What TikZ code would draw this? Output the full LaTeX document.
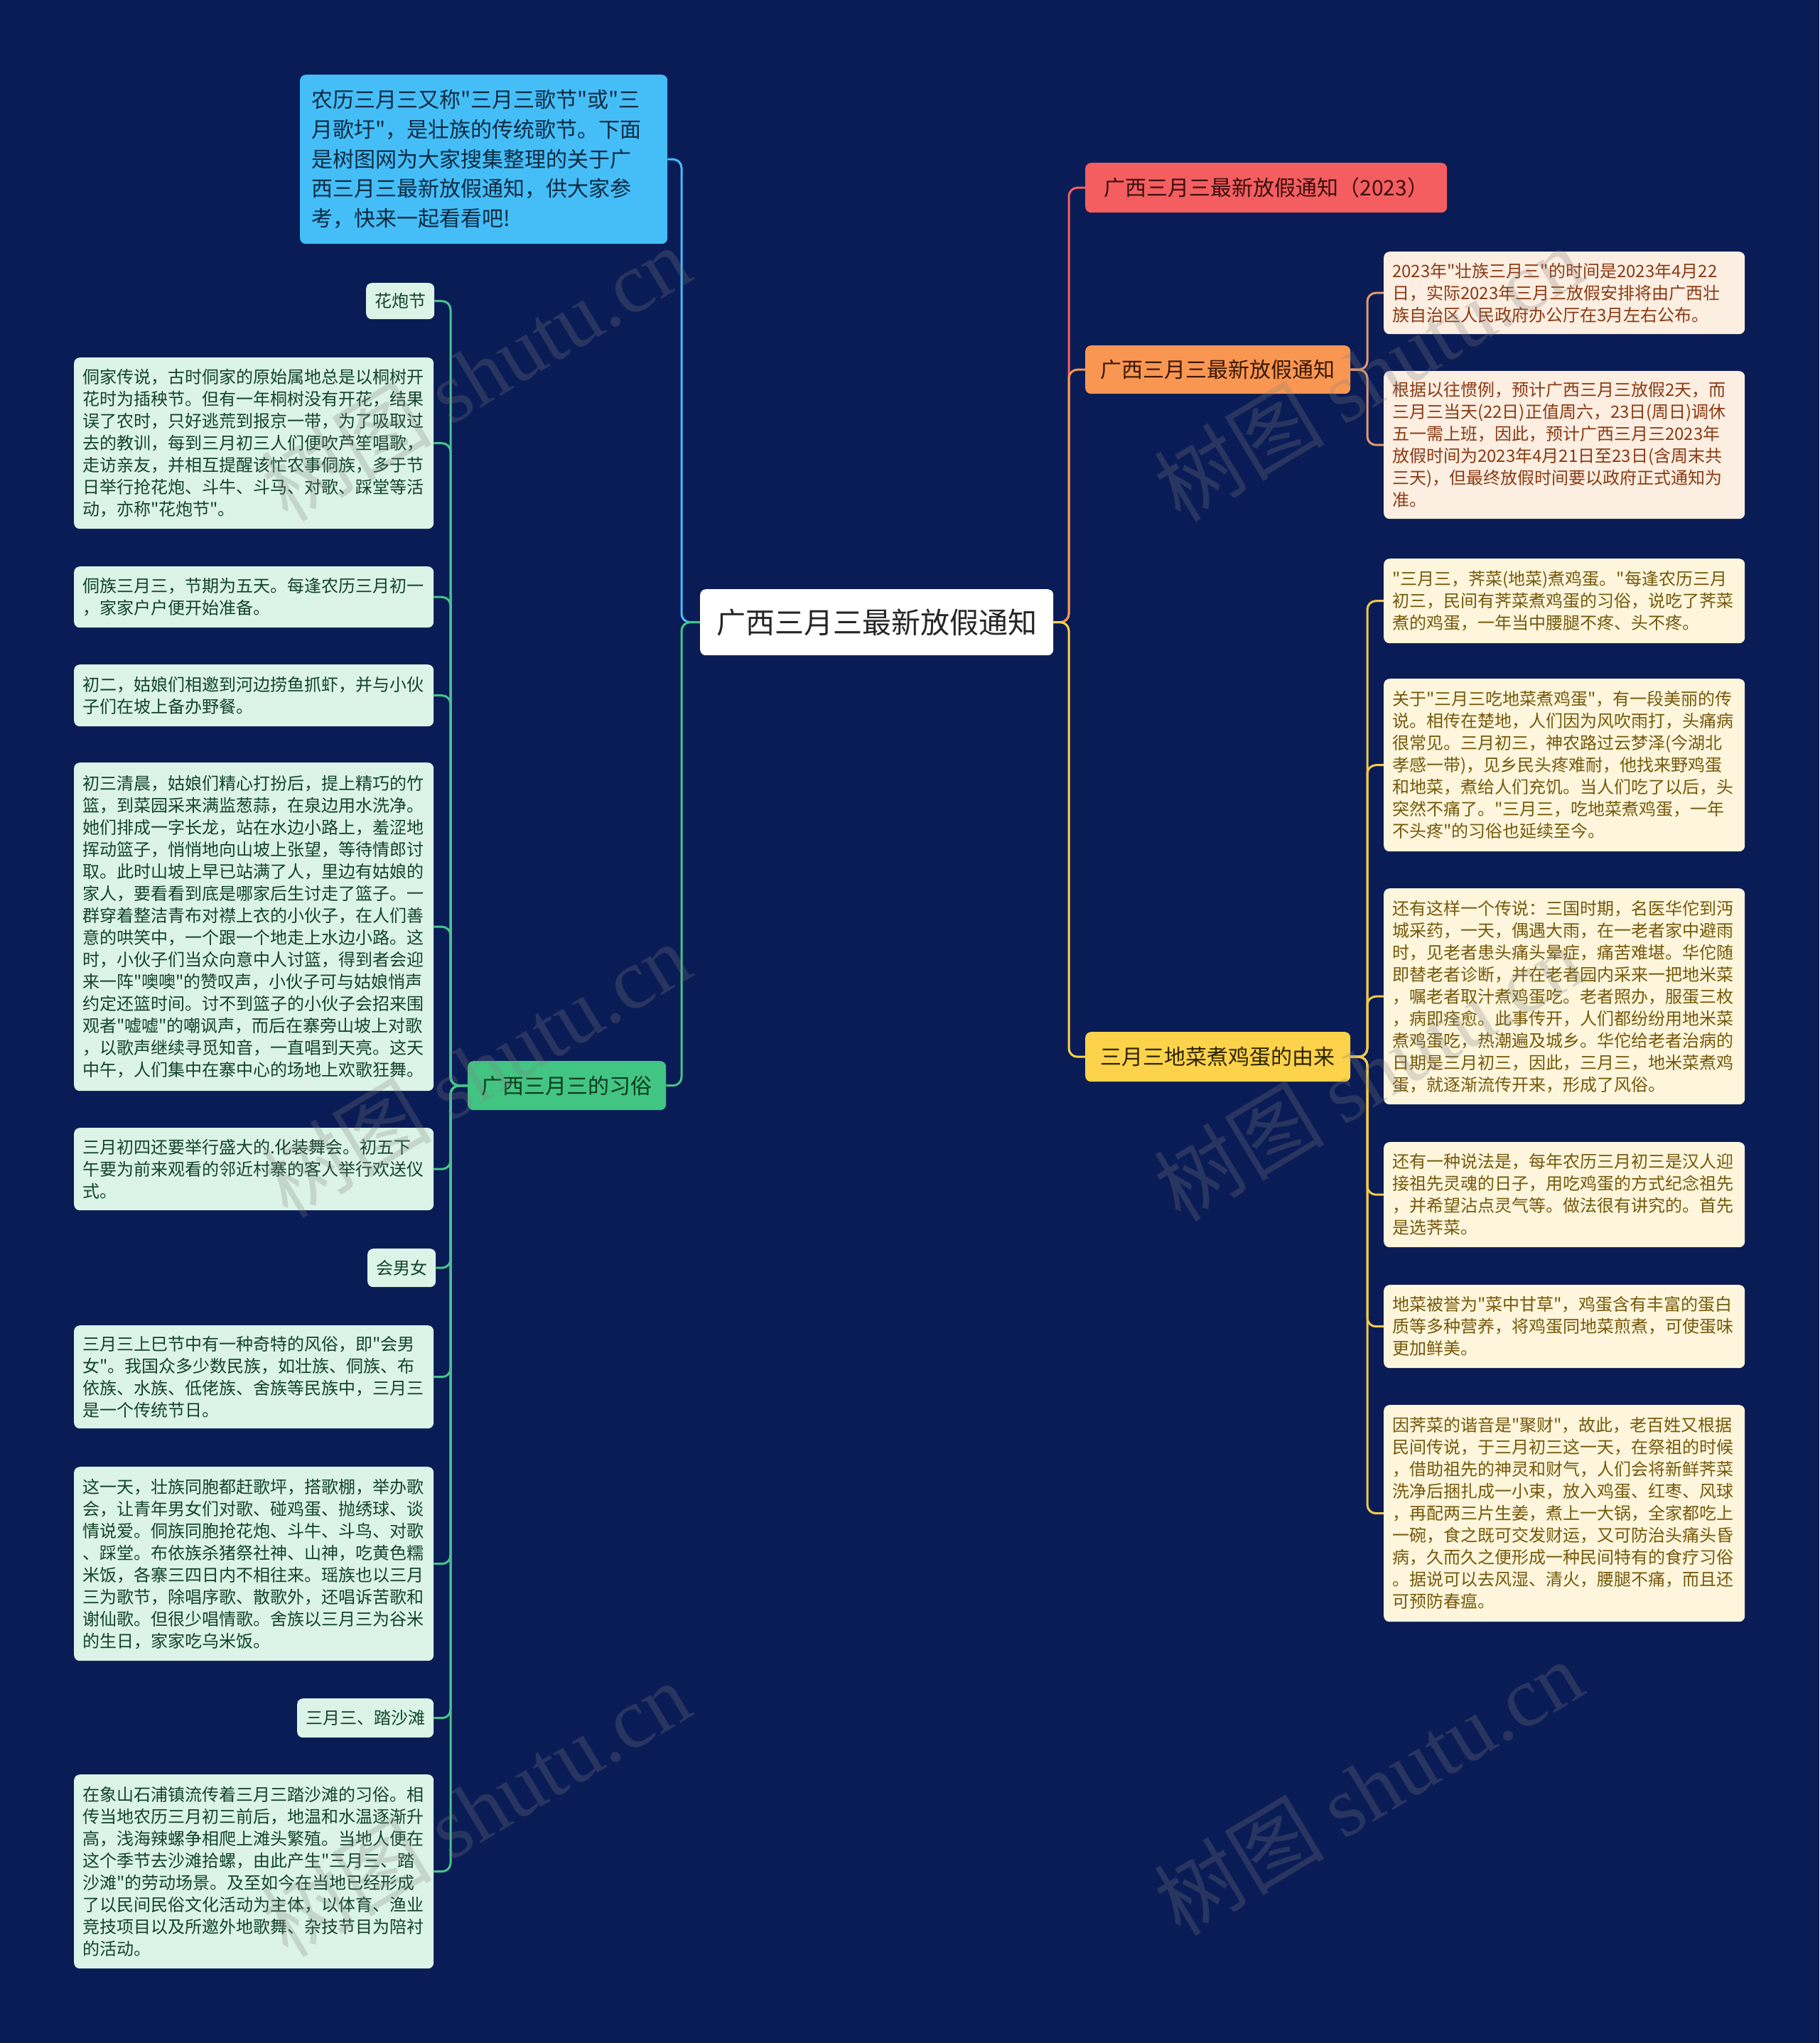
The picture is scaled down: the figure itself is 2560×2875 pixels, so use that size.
\documentclass[tikz,border=0pt]{standalone}
\usepackage{fontspec}
\setmainfont{Noto Sans CJK SC}[Ligatures=TeXOff]
\newfontfamily\wmlatin{Liberation Serif}
\usetikzlibrary{calc}
\definecolor{bgnavy}{HTML}{0A1C56}
\definecolor{cblue}{HTML}{45BEF8}
\definecolor{cgreen}{HTML}{42C583}
\definecolor{cred}{HTML}{F45E60}
\definecolor{corange}{HTML}{F99752}
\definecolor{cyellow}{HTML}{FCD34A}
\definecolor{bluetext}{HTML}{0D2A40}
\definecolor{redtext}{HTML}{3A0F10}
\definecolor{orangetext}{HTML}{3A1806}
\definecolor{yellowtext}{HTML}{2E2400}
\definecolor{greentext}{HTML}{0C3A20}
\definecolor{mintfill}{HTML}{DCF4E7}
\definecolor{minttext}{HTML}{13432A}
\definecolor{mintline}{HTML}{48C48C}
\definecolor{peachfill}{HTML}{FDEEE2}
\definecolor{peachtext}{HTML}{8A3A12}
\definecolor{peachline}{HTML}{E59A70}
\definecolor{creamfill}{HTML}{FDF6DC}
\definecolor{creamtext}{HTML}{76580A}
\definecolor{creamline}{HTML}{F2CA48}
\hyphenpenalty=10000
\begin{document}
\begin{tikzpicture}[x=1pt,y=-1pt,
  box/.style={rectangle,rounded corners=8pt,anchor=north west,inner ysep=4pt},
  small/.style={box,font=\fontsize{24}{31}\selectfont,inner xsep=12pt,align=left},
  mint/.style={small,fill=mintfill,text=minttext},
  peach/.style={small,fill=peachfill,text=peachtext},
  cream/.style={small,fill=creamfill,text=creamtext},
  wide/.style={text width=482pt,minimum width=506pt},
  rwide/.style={text width=484pt,minimum width=508pt},
  topic/.style={box,font=\fontsize{30}{36}\selectfont,align=center,inner xsep=6pt},
  link/.style={line width=3pt,rounded corners=12pt},
  wm/.style={rotate=31,text=gray,text opacity=0.26,inner sep=0pt,font=\fontsize{120}{120}\selectfont}
]
\fill[bgnavy] (0,0) rectangle (2560,2875);
\useasboundingbox (0,0) rectangle (2560,2875);

% central and main topics
\node[box,fill=white,text=black!85,font=\fontsize{41}{48}\selectfont,minimum width=497pt,minimum height=93pt,align=center] (c) at (985,829) {广西三月三最新放假通知};
\node[box,fill=cblue,text=bluetext,font=\fontsize{30}{41.7}\selectfont,align=left,inner xsep=16pt,text width=485pt,minimum width=517pt,minimum height=238pt] (b) at (422,105) {农历三月三又称"三月三歌节"或"三\\月歌圩"，是壮族的传统歌节。下面\\是树图网为大家搜集整理的关于广\\西三月三最新放假通知，供大家参\\考，快来一起看看吧!};
\node[topic,fill=cred,text=redtext,minimum width=509pt,minimum height=70pt] (r) at (1527,229) {广西三月三最新放假通知（2023）};
\node[topic,fill=corange,text=orangetext,minimum width=373pt,minimum height=68pt] (o) at (1527,486) {广西三月三最新放假通知};
\node[topic,fill=cyellow,text=yellowtext,minimum width=373pt,minimum height=70pt] (y) at (1527,1452) {三月三地菜煮鸡蛋的由来};
\node[topic,fill=cgreen,text=greentext,minimum width=279pt,minimum height=69pt] (g) at (658,1493) {广西三月三的习俗};

% left children
\node[mint,minimum width=95pt,minimum height=51pt,align=center] (l1) at (515,398) {花炮节};
\node[mint,wide,minimum height=241pt] (l2) at (104,503) {侗家传说，古时侗家的原始属地总是以桐树开\\花时为插秧节。但有一年桐树没有开花，结果\\误了农时，只好逃荒到报京一带，为了吸取过\\去的教训，每到三月初三人们便吹芦笙唱歌，\\走访亲友，并相互提醒该忙农事侗族，多于节\\日举行抢花炮、斗牛、斗马、对歌、踩堂等活\\动，亦称"花炮节"。};
\node[mint,wide,minimum height=86pt] (l3) at (104,797) {侗族三月三，节期为五天。每逢农历三月初一\\，家家户户便开始准备。};
\node[mint,wide,minimum height=87pt] (l4) at (104,935) {初二，姑娘们相邀到河边捞鱼抓虾，并与小伙\\子们在坡上备办野餐。};
\node[mint,wide,minimum height=462pt] (l5) at (104,1073) {初三清晨，姑娘们精心打扮后，提上精巧的竹\\篮，到菜园采来满监葱蒜，在泉边用水洗净。\\她们排成一字长龙，站在水边小路上，羞涩地\\挥动篮子，悄悄地向山坡上张望，等待情郎讨\\取。此时山坡上早已站满了人，里边有姑娘的\\家人，要看看到底是哪家后生讨走了篮子。一\\群穿着整洁青布对襟上衣的小伙子，在人们善\\意的哄笑中，一个跟一个地走上水边小路。这\\时，小伙子们当众向意中人讨篮，得到者会迎\\来一阵"噢噢"的赞叹声，小伙子可与姑娘悄声\\约定还篮时间。讨不到篮子的小伙子会招来围\\观者"嘘嘘"的嘲讽声，而后在寨旁山坡上对歌\\，以歌声继续寻觅知音，一直唱到天亮。这天\\中午，人们集中在寨中心的场地上欢歌狂舞。};
\node[mint,wide,minimum height=116pt] (l6) at (104,1587) {三月初四还要举行盛大的.化装舞会。初五下\\午要为前来观看的邻近村寨的客人举行欢送仪\\式。};
\node[mint,minimum width=93pt,minimum height=54pt,align=center] (l7) at (517,1757) {会男女};
\node[mint,wide,minimum height=145pt] (l8) at (104,1865) {三月三上巳节中有一种奇特的风俗，即"会男\\女"。我国众多少数民族，如壮族、侗族、布\\依族、水族、低佬族、舍族等民族中，三月三\\是一个传统节日。};
\node[mint,wide,minimum height=273pt] (l9) at (104,2064) {这一天，壮族同胞都赶歌坪，搭歌棚，举办歌\\会，让青年男女们对歌、碰鸡蛋、抛绣球、谈\\情说爱。侗族同胞抢花炮、斗牛、斗鸟、对歌\\、踩堂。布依族杀猪祭社神、山神，吃黄色糯\\米饭，各寨三四日内不相往来。瑶族也以三月\\三为歌节，除唱序歌、散歌外，还唱诉苦歌和\\谢仙歌。但很少唱情歌。舍族以三月三为谷米\\的生日，家家吃乌米饭。};
\node[mint,minimum width=192pt,minimum height=55pt,align=center] (l10) at (418,2390) {三月三、踏沙滩};
\node[mint,wide,minimum height=273pt] (l11) at (104,2497) {在象山石浦镇流传着三月三踏沙滩的习俗。相\\传当地农历三月初三前后，地温和水温逐渐升\\高，浅海辣螺争相爬上滩头繁殖。当地人便在\\这个季节去沙滩拾螺，由此产生"三月三、踏\\沙滩"的劳动场景。及至如今在当地已经形成\\了以民间民俗文化活动为主体，以体育、渔业\\竞技项目以及所邀外地歌舞、杂技节目为陪衬\\的活动。};

% right children (orange)
\node[peach,rwide,minimum height=116pt] (r1) at (1947,354) {2023年"壮族三月三"的时间是2023年4月22\\日，实际2023年三月三放假安排将由广西壮\\族自治区人民政府办公厅在3月左右公布。};
\node[peach,rwide,minimum height=208pt] (r2) at (1947,522) {根据以往惯例，预计广西三月三放假2天，而\\三月三当天(22日)正值周六，23日(周日)调休\\五一需上班，因此，预计广西三月三2023年\\放假时间为2023年4月21日至23日(含周末共\\三天)，但最终放假时间要以政府正式通知为\\准。};

% right children (yellow)
\node[cream,rwide,minimum height=119pt] (y1) at (1947,786) {"三月三，荠菜(地菜)煮鸡蛋。"每逢农历三月\\初三，民间有荠菜煮鸡蛋的习俗，说吃了荠菜\\煮的鸡蛋，一年当中腰腿不疼、头不疼。};
\node[cream,rwide,minimum height=243pt] (y2) at (1947,955) {关于"三月三吃地菜煮鸡蛋"，有一段美丽的传\\说。相传在楚地，人们因为风吹雨打，头痛病\\很常见。三月初三，神农路过云梦泽(今湖北\\孝感一带)，见乡民头疼难耐，他找来野鸡蛋\\和地菜，煮给人们充饥。当人们吃了以后，头\\突然不痛了。"三月三，吃地菜煮鸡蛋，一年\\不头疼"的习俗也延续至今。};
\node[cream,rwide,minimum height=304pt] (y3) at (1947,1250) {还有这样一个传说：三国时期，名医华佗到沔\\城采药，一天，偶遇大雨，在一老者家中避雨\\时，见老者患头痛头晕症，痛苦难堪。华佗随\\即替老者诊断，并在老者园内采来一把地米菜\\，嘱老者取汁煮鸡蛋吃。老者照办，服蛋三枚\\，病即痊愈。此事传开，人们都纷纷用地米菜\\煮鸡蛋吃，热潮遍及城乡。华佗给老者治病的\\日期是三月初三，因此，三月三，地米菜煮鸡\\蛋，就逐渐流传开来，形成了风俗。};
\node[cream,rwide,minimum height=148pt] (y4) at (1947,1607) {还有一种说法是，每年农历三月初三是汉人迎\\接祖先灵魂的日子，用吃鸡蛋的方式纪念祖先\\，并希望沾点灵气等。做法很有讲究的。首先\\是选荠菜。};
\node[cream,rwide,minimum height=117pt] (y5) at (1947,1808) {地菜被誉为"菜中甘草"，鸡蛋含有丰富的蛋白\\质等多种营养，将鸡蛋同地菜煎煮，可使蛋味\\更加鲜美。};
\node[cream,rwide,minimum height=305pt] (y6) at (1947,1977) {因荠菜的谐音是"聚财"，故此，老百姓又根据\\民间传说，于三月初三这一天，在祭祖的时候\\，借助祖先的神灵和财气，人们会将新鲜荠菜\\洗净后捆扎成一小束，放入鸡蛋、红枣、风球\\，再配两三片生姜，煮上一大锅，全家都吃上\\一碗，食之既可交发财运，又可防治头痛头昏\\病，久而久之便形成一种民间特有的食疗习俗\\。据说可以去风湿、清火，腰腿不痛，而且还\\可预防春瘟。};

% trunks
\coordinate (tL) at (959,0);
\coordinate (tR) at (1504,0);
\coordinate (tG) at (634,0);
\coordinate (tY) at (1924,0);

% connectors
\draw[link,cblue] (c.west) -- (c.west -| tL) -- (tL |- b.east) -- (b.east);
\draw[link,cgreen] (c.west) -- (c.west -| tL) -- (tL |- g.east) -- (g.east);
\draw[link,cred] (c.east) -- (c.east -| tR) -- (tR |- r.west) -- (r.west);
\draw[link,corange] (c.east) -- (c.east -| tR) -- (tR |- o.west) -- (o.west);
\draw[link,cyellow] (c.east) -- (c.east -| tR) -- (tR |- y.west) -- (y.west);
\foreach \i in {1,...,11}
  \draw[link,mintline] (g.west) -- (g.west -| tG) -- (tG |- l\i.east) -- (l\i.east);
\foreach \i in {1,2}
  \draw[link,peachline] (o.east) -- (o.east -| tY) -- (tY |- r\i.west) -- (r\i.west);
\foreach \i in {1,...,6}
  \draw[link,creamline] (y.east) -- (y.east -| tY) -- (tY |- y\i.west) -- (y\i.west);

% watermarks
\node[wm] (wm1) at (669,525) {树图 {\wmlatin shutu.cn}};
\node[wm] (wm2) at (1925,525) {树图 {\wmlatin shutu.cn}};
\node[wm] (wm3) at (669,1505) {树图 {\wmlatin shutu.cn}};
\node[wm] (wm4) at (1925,1510) {树图 {\wmlatin shutu.cn}};
\node[wm] (wm5) at (669,2545) {树图 {\wmlatin shutu.cn}};
\node[wm] (wm6) at (1925,2515) {树图 {\wmlatin shutu.cn}};
\end{tikzpicture}
\end{document}
